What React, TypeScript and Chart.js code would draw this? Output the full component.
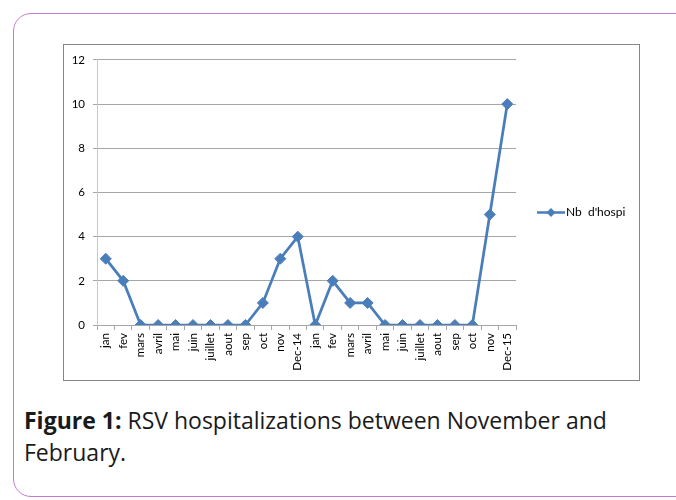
import React, { useEffect, useRef } from "react";
import { Chart, registerables } from "chart.js";

Chart.register(...registerables);

const categories = [
  "jan", "fev", "mars", "avril", "mai", "juin", "juillet", "aout", "sep", "oct", "nov", "Dec-14",
  "jan", "fev", "mars", "avril", "mai", "juin", "juillet", "aout", "sep", "oct", "nov", "Dec-15",
];
const hospitalizations = [3, 2, 0, 0, 0, 0, 0, 0, 0, 1, 3, 4, 0, 2, 1, 1, 0, 0, 0, 0, 0, 0, 5, 10];
const seriesName = "Nb  d'hospi";
const yTicks = [0, 2, 4, 6, 8, 10, 12];

const LINE_COLOR = "#4a7ebb";
const FONT = "Lato, 'Open Sans', sans-serif";
const CAPTION_FONT = "'Open Sans', Lato, sans-serif";

const legendPlugin = {
  id: "customLegend",
  afterDraw(chart: any) {
    const ctx = chart.ctx;
    const area = chart.chartArea;
    const x0 = area.right + 21;
    const y0 = chart.height / 2;
    ctx.save();
    ctx.strokeStyle = LINE_COLOR;
    ctx.lineWidth = 2.5;
    ctx.beginPath();
    ctx.moveTo(x0, y0);
    ctx.lineTo(x0 + 28, y0);
    ctx.stroke();
    ctx.fillStyle = LINE_COLOR;
    ctx.beginPath();
    const r = 4.5;
    ctx.moveTo(x0 + 14 - r, y0);
    ctx.lineTo(x0 + 14, y0 - r);
    ctx.lineTo(x0 + 14 + r, y0);
    ctx.lineTo(x0 + 14, y0 + r);
    ctx.closePath();
    ctx.fill();
    ctx.fillStyle = "#000";
    ctx.font = `12px ${FONT}`;
    ctx.textBaseline = "middle";
    ctx.textAlign = "left";
    ctx.fillText(seriesName, x0 + 29, y0);
    ctx.restore();
  },
};

export default function App() {
  const ref = useRef<HTMLCanvasElement | null>(null);

  useEffect(() => {
    if (!ref.current) return;
    const chart = new Chart(ref.current, {
      type: "line",
      data: {
        labels: categories,
        datasets: [
          {
            label: seriesName,
            data: hospitalizations,
            borderColor: LINE_COLOR,
            backgroundColor: LINE_COLOR,
            borderWidth: 2.75,
            pointStyle: "rectRot",
            pointRadius: 5.5,
            pointBorderWidth: 1,
            pointBackgroundColor: LINE_COLOR,
            pointBorderColor: LINE_COLOR,
            tension: 0,
            fill: false,
          },
        ],
      },
      options: {
        animation: false,
        responsive: false,
        maintainAspectRatio: false,
        layout: { padding: { left: 0, top: 14, right: 123, bottom: 0 } },
        plugins: {
          legend: { display: false },
          tooltip: { enabled: false },
        },
        scales: {
          x: {
            type: "category",
            offset: true,
            grid: {
              offset: true,
              drawOnChartArea: false,
              drawTicks: true,
              tickLength: 5,
              color: "#a6a6a6",
            },
            border: { display: true, color: "#a6a6a6", width: 1 },
            ticks: {
              autoSkip: false,
              minRotation: 90,
              maxRotation: 90,
              padding: 3,
              color: "#000",
              font: { family: FONT, size: 11.5 },
            },
            afterFit(scale: any) {
              scale.height = 55;
            },
          },
          y: {
            min: 0,
            max: 12,
            afterBuildTicks(scale: any) {
              scale.ticks = yTicks.map((v) => ({ value: v }));
            },
            grid: {
              color: "#a6a6a6",
              tickLength: 4,
              drawTicks: true,
            },
            border: { display: true, color: "#c8c8c8", width: 1 },
            ticks: {
              padding: 8,
              color: "#000",
              font: { family: FONT, size: 11.5 },
            },
            afterFit(scale: any) {
              scale.width = 33;
            },
          },
        },
      },
      plugins: [legendPlugin],
    } as any);
    return () => chart.destroy();
  }, []);

  return (
    <div style={{ position: "absolute", left: 0, top: 0, width: 676, height: 500, overflow: "hidden", background: "#fff" }}>
      <div
        style={{
          position: "absolute",
          left: 13,
          top: 13,
          width: 720,
          height: 484,
          border: "1.5px solid #c27cc9",
          borderRadius: 18,
          boxSizing: "border-box",
        }}
      />
      <div
        style={{
          position: "absolute",
          left: 63,
          top: 44,
          width: 577,
          height: 337,
          border: "1px solid #868686",
          boxSizing: "border-box",
          background: "#fff",
        }}
      >
        <canvas ref={ref} width={575} height={335} style={{ display: "block", width: 575, height: 335 }} />
      </div>
      <div
        style={{
          position: "absolute",
          left: 24,
          top: 404,
          width: 640,
          fontFamily: CAPTION_FONT,
          fontSize: 23,
          lineHeight: "32px",
          color: "#1a1a1a",
          whiteSpace: "nowrap",
        }}
      >
        <b>Figure 1:</b> RSV hospitalizations between November and
        <br />
        February.
      </div>
    </div>
  );
}
